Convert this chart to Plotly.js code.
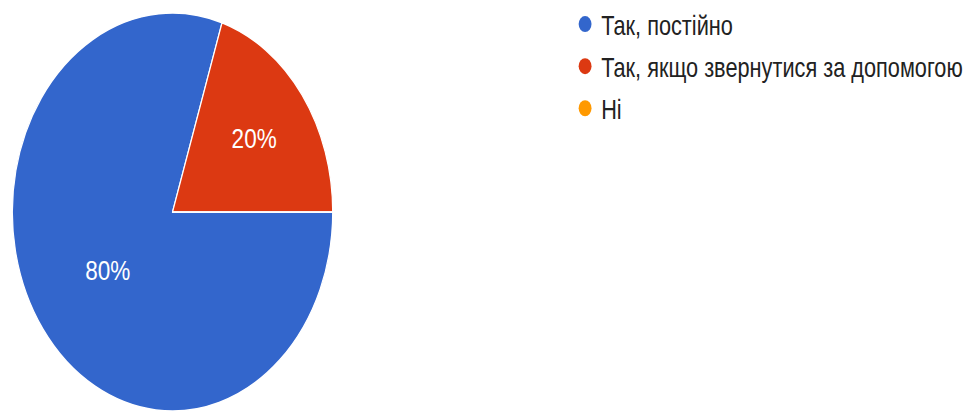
<!DOCTYPE html>
<html>
<head>
<meta charset="utf-8">
<script src="https://cdn.plot.ly/plotly-3.0.1.min.js"></script>
<style>
  html, body { margin: 0; padding: 0; background: #ffffff; overflow: hidden; }
  #wrap { width: 968px; height: 412px; overflow: hidden; }
  #chart { width: 1202px; height: 412px; transform: scaleX(0.805); transform-origin: 0 0; }
</style>
</head>
<body>
<div id="wrap"><div id="chart"></div></div>
<script>
const categories = ["Так, постійно", "Так, якщо звернутися за допомогою", "Ні"];
const values = [80, 20, 0];
const colors = ["#3366cc", "#dc3912", "#ff9900"];

const pie = {
  type: "pie",
  labels: categories,
  values: values,
  marker: { colors: colors, line: { color: "#ffffff", width: 1.5 } },
  sort: false,
  direction: "clockwise",
  rotation: 90,
  textinfo: "percent",
  texttemplate: "%{percent:.0%}",
  textposition: "inside",
  insidetextorientation: "horizontal",
  insidetextfont: { color: "#ffffff", size: 28, family: "Liberation Sans, Arial, sans-serif" },
  showlegend: false,
  hoverinfo: "label+percent",
  domain: { x: [0.0125, 0.3453], y: [0.0024, 0.973] }
};

const legendTraces = categories.map((c, i) => ({
  type: "scatter",
  mode: "markers",
  x: [null], y: [null],
  name: c,
  legendgroup: "g" + i,
  marker: { color: colors[i], size: 24, symbol: "circle" },
  hoverinfo: "skip"
}));

const layout = {
  width: 1202,
  height: 412,
  margin: { l: 0, r: 0, t: 0, b: 0 },
  paper_bgcolor: "#ffffff",
  plot_bgcolor: "#ffffff",
  font: { family: "Liberation Sans, Arial, sans-serif", color: "#222222" },
  xaxis: { visible: false, domain: [0.99, 1] },
  yaxis: { visible: false, domain: [0.99, 1] },
  showlegend: true,
  legend: {
    x: 0.59, xanchor: "left",
    y: 1.006, yanchor: "top",
    font: { size: 27, color: "#222222" },
    tracegroupgap: 4,
    itemsizing: "trace",
    bgcolor: "rgba(0,0,0,0)"
  }
};

Plotly.newPlot("chart", [pie].concat(legendTraces), layout, { displayModeBar: false, staticPlot: true });
</script>
</body>
</html>
